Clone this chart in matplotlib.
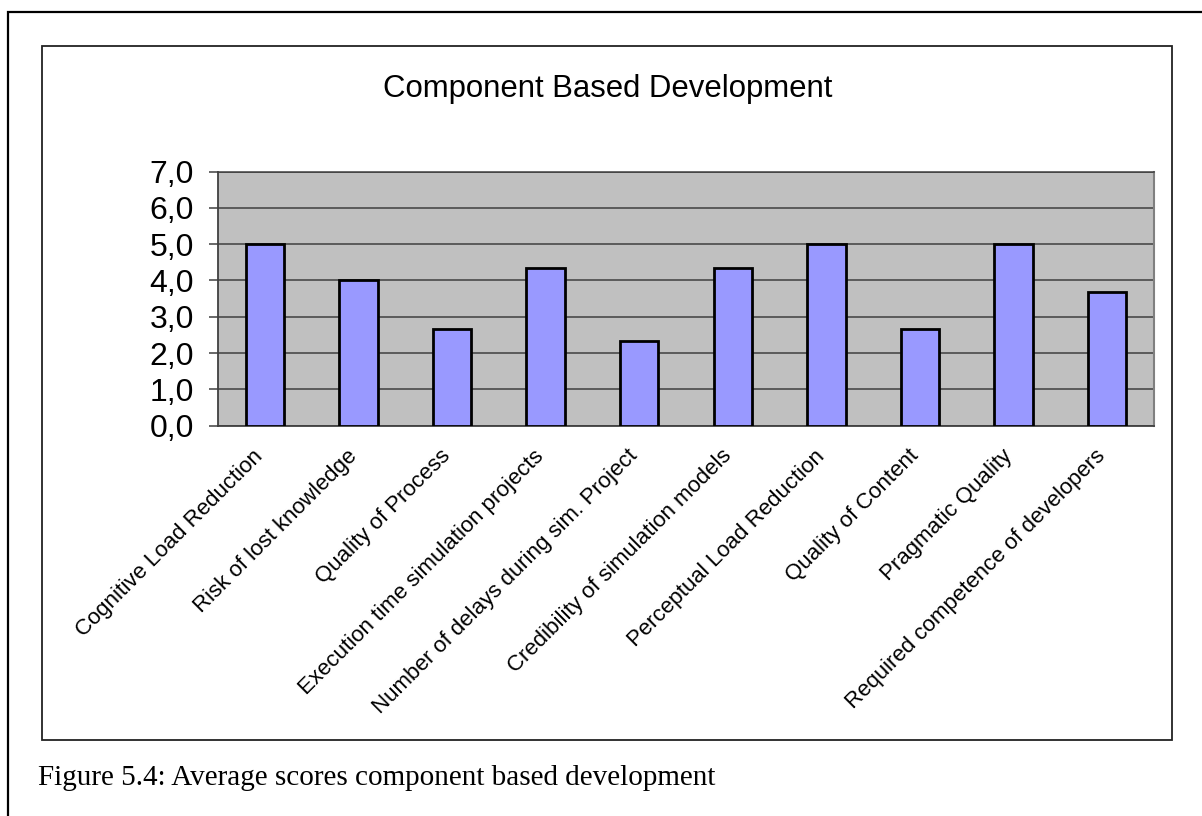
import matplotlib
matplotlib.use("Agg")
import matplotlib.pyplot as plt
from matplotlib.patches import Rectangle
from matplotlib.transforms import ScaledTranslation

# Average scores per criterion
categories = [
    "Cognitive Load Reduction",
    "Risk of lost knowledge",
    "Quality of Process",
    "Execution time simulation projects",
    "Number of delays during sim. Project",
    "Credibility of simulation models",
    "Perceptual Load Reduction",
    "Quality of Content",
    "Pragmatic Quality",
    "Required competence of developers",
]
scores = [5.0, 4.0, 2.67, 4.33, 2.33, 4.33, 5.0, 2.67, 5.0, 3.67]
y_ticks = [0, 1, 2, 3, 4, 5, 6, 7]
y_tick_labels = ["0,0", "1,0", "2,0", "3,0", "4,0", "5,0", "6,0", "7,0"]

W, H = 1202, 816
fig = plt.figure(figsize=(W / 100, H / 100), dpi=100)
fig.patch.set_facecolor("white")

def fx(px):
    return px / W

def fy(py):
    return 1 - py / H

# page frame (runs off the right and bottom edges)
fig.patches.append(Rectangle((fx(8), fy(1000)), fx(1400), fy(12) - fy(1000),
                             transform=fig.transFigure, fill=False,
                             edgecolor="black", linewidth=1.6))
# chart area frame
fig.patches.append(Rectangle((fx(42), fy(740)), fx(1172) - fx(42), fy(46) - fy(740),
                             transform=fig.transFigure, fill=False,
                             edgecolor="#222222", linewidth=1.3))

left, right, top, bottom = 218, 1154, 171.5, 425.7
ax = fig.add_axes([fx(left), fy(bottom), fx(right) - fx(left), fy(top) - fy(bottom)])
ax.set_facecolor("#C0C0C0")

x = list(range(len(categories)))
ax.bar(x, scores, width=0.41, color="#9999FF", edgecolor="black",
       linewidth=2.0, zorder=3)

ax.set_xlim(-0.5, len(categories) - 0.5)
ax.set_ylim(0, 7)
ax.set_yticks(y_ticks)
ax.set_yticklabels(y_tick_labels, fontsize=23, family="Liberation Sans")
ax.yaxis.grid(True, color="#404040", linewidth=1.1, zorder=1)
ax.set_axisbelow(True)

ax.set_xticks(x)
ax.set_xticklabels(categories, rotation=45, ha="right", va="top",
                   rotation_mode="anchor", fontsize=16, family="Liberation Sans")
ax.tick_params(axis="x", length=0, pad=10)
ax.tick_params(axis="y", length=6.5, width=1.1, color="#404040", pad=11)

shift = ScaledTranslation(-12 / 100, -6 / 100, fig.dpi_scale_trans)
for lbl in ax.get_xticklabels():
    lbl.set_transform(lbl.get_transform() + shift)

for side in ("left", "bottom"):
    ax.spines[side].set_color("#404040")
    ax.spines[side].set_linewidth(1.3)
ax.spines["top"].set_color("#404040")
ax.spines["top"].set_linewidth(1.1)
ax.spines["right"].set_color("#808080")
ax.spines["right"].set_linewidth(1.5)

fig.text(fx(608), fy(97), "Component Based Development", ha="center", va="baseline",
         fontsize=22.4, family="Liberation Sans")

fig.text(fx(38), fy(785), "Figure 5.4: Average scores component based development",
         ha="left", va="baseline", fontsize=21, family="Liberation Serif")

fig.savefig("out.png", dpi=100)
